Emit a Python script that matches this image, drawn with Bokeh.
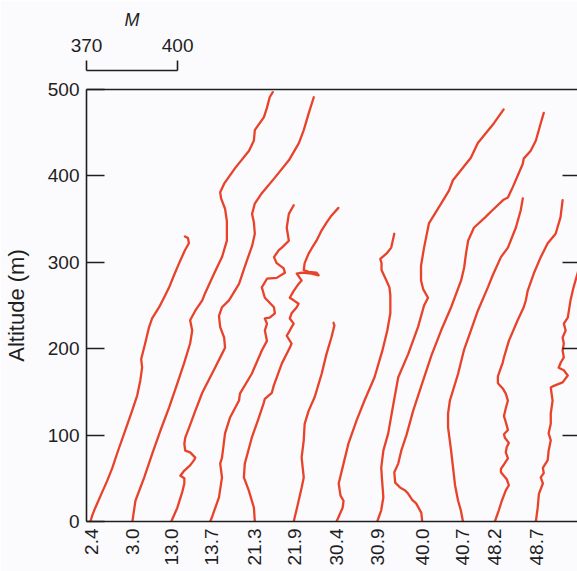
import math

from bokeh.embed import file_html
from bokeh.models import FixedTicker, LinearAxis, Range1d
from bokeh.plotting import figure
from bokeh.resources import INLINE

# Launch times (h) of the twelve soundings, in plotting order
time_labels = ["2.4", "3.0", "13.0", "13.7", "21.3", "21.9",
               "30.4", "30.9", "40.0", "40.7", "48.2", "48.7"]

# Position of each profile's surface value on the M axis
offsets = [371.6, 385.1, 397.9, 411.0, 425.4, 438.5,
           452.3, 465.7, 480.5, 493.9, 504.4, 518.2]

# Altitude (m) and change of modified refractivity M from the surface value
alt_2_4 = [0, 7, 16, 32, 47, 62, 79, 105, 128, 146, 163, 178, 188, 206, 225, 235,
           248, 259, 271, 285, 299, 314, 322, 328, 330]
dm_2_4 = [-0.3, 0.3, 1.3, 3.3, 5.2, 6.9, 8.5, 11.1, 13.4, 15.1, 16.1, 16.7, 16.4,
          17.7, 19.0, 20.0, 22.3, 23.9, 25.6, 27.2, 28.9, 30.8, 32.1, 31.8, 30.8]

alt_3_0 = [0, 24, 51, 79, 105, 132, 160, 183, 206, 221, 233, 244, 256, 264, 287,
           306, 325, 348, 362, 374, 381, 391, 409, 429, 441, 453, 468, 479, 491, 497]
dm_3_0 = [0, 1.0, 3.9, 6.6, 9.2, 12.1, 14.8, 17.0, 19.0, 19.7, 19.0, 20.7, 23.0,
          23.9, 26.9, 29.5, 31.1, 31.1, 30.5, 29.2, 28.9, 30.2, 33.8, 38.4, 40.0,
          40.3, 43.3, 44.3, 45.2, 46.2]

alt_13_0 = [0, 16, 34, 44, 50, 53, 59, 65, 71, 74, 80, 82, 90, 97, 109, 128, 149,
            167, 178, 194, 201, 213, 225, 238, 248, 256, 275, 299, 319, 333, 346,
            356, 368, 380, 398, 418, 438, 453, 472, 491]
dm_13_0 = [0, 2.0, 3.6, 4.3, 4.3, 3.0, 4.3, 6.2, 7.5, 7.9, 6.2, 4.6, 4.3, 4.6, 5.9,
           7.9, 10.2, 12.8, 14.4, 16.7, 17.7, 17.4, 16.1, 15.7, 16.7, 19.0, 22.3,
           24.6, 26.6, 27.5, 27.2, 26.6, 27.5, 29.8, 34.1, 38.7, 42.0, 43.6, 45.2, 46.9]

alt_13_7 = [0, 5, 28, 51, 67, 74, 102, 120, 140, 148, 171, 198, 209, 221, 229, 235,
            236, 241, 248, 259, 271, 281, 282, 288, 293, 299, 306, 314, 317, 325,
            340, 356, 366]
dm_13_7 = [-0.3, 0.3, 2.6, 3.6, 3.0, 3.6, 4.6, 6.2, 9.2, 9.5, 13.4, 16.7, 18.4,
           17.7, 18.4, 17.7, 19.3, 21.0, 20.7, 17.7, 16.7, 18.4, 21.6, 24.3, 23.9,
           21.6, 20.7, 22.3, 23.3, 25.6, 24.9, 25.6, 27.2]

alt_21_3 = [0, 16, 36, 51, 67, 97, 120, 138, 142, 149, 157, 183, 201, 206, 215, 221,
            225, 229, 235, 241, 248, 252, 256, 259, 267, 275, 279, 282, 287, 288,
            287, 285, 288, 289, 291, 299, 310, 316, 325, 337, 346, 354, 363]
dm_21_3 = [0, -0.3, -2.0, -3.6, -3.3, -1.0, 1.3, 3.0, 3.3, 5.6, 6.2, 8.9, 11.5,
           12.1, 10.5, 11.5, 12.1, 12.8, 11.5, 12.1, 13.8, 14.4, 12.8, 11.5, 12.8,
           14.4, 15.4, 14.8, 13.8, 15.4, 18.7, 21.0, 20.3, 17.7, 16.1, 16.4, 17.7,
           18.7, 20.3, 22.0, 23.6, 25.2, 27.5]

alt_21_9 = [0, 19, 39, 51, 74, 94, 113, 128, 144, 171, 194, 213, 227, 230]
dm_21_9 = [-0.3, 1.0, 2.3, 3.0, 2.3, 3.0, 3.3, 4.6, 6.6, 8.9, 10.5, 12.1, 13.1, 12.8]

alt_30_4 = [0, 16, 24, 30, 44, 67, 90, 117, 140, 167, 198, 221, 241, 262, 271, 279,
            291, 299, 304, 310, 317, 333]
dm_30_4 = [0, 2.0, 2.3, 1.3, 0.7, 2.3, 3.9, 6.6, 9.2, 12.5, 15.1, 16.7, 17.7, 17.7,
           17.4, 16.4, 14.8, 14.8, 14.4, 16.4, 18.0, 19.0]

alt_30_9 = [0, 13, 28, 47, 62, 82, 102, 134, 167, 194, 225, 250, 259, 269, 279, 296,
            317, 345, 368, 383, 395, 421, 438, 461, 477]
dm_30_9 = [0, 1.3, 2.0, 1.6, 1.3, 2.0, 3.6, 5.2, 6.9, 10.2, 13.4, 15.4, 16.7, 15.1,
           14.4, 14.4, 15.4, 17.0, 21.0, 23.6, 24.9, 30.8, 33.1, 38.4, 41.6]

alt_40_0 = [0, 10, 21, 25, 32, 36, 39, 45, 57, 67, 82, 100, 128, 157, 192, 221, 248,
            279, 294, 310, 325, 340, 352, 360, 372, 375, 387, 414, 420, 429, 441,
            461, 473]
dm_40_0 = [0, -0.3, -2.0, -3.3, -4.6, -5.6, -7.2, -8.9, -9.2, -7.9, -6.9, -5.2,
           -3.0, -0.3, 3.0, 6.2, 9.5, 12.8, 13.8, 14.4, 15.1, 17.0, 20.7, 23.0,
           26.6, 28.2, 29.8, 33.1, 33.4, 35.7, 37.4, 39.0, 40.0]

alt_40_7 = [0, 13, 24, 42, 82, 109, 125, 140, 171, 198, 221, 244, 271, 285, 306,
            317, 340, 360, 374]
dm_40_7 = [0, -0.7, -1.6, -2.6, -3.9, -4.9, -4.9, -4.3, -1.6, 0.3, 2.6, 4.9, 8.2,
           9.8, 12.5, 14.8, 17.4, 19.0, 19.7]

alt_48_2 = [0, 13, 24, 36, 42, 49, 57, 61, 66, 73, 80, 86, 91, 97, 101, 106, 115,
            122, 131, 140, 148, 154, 160, 168, 178, 184, 190, 209, 233, 248, 256,
            267, 287, 306, 322, 333, 352, 372]
dm_48_2 = [0, 1.3, 2.3, 3.6, 4.6, 3.9, 2.0, 2.0, 3.0, 4.3, 3.6, 3.9, 4.6, 3.3, 3.0,
           4.3, 3.6, 3.0, 3.6, 4.3, 3.6, 2.6, 1.0, 1.0, 2.0, 2.6, 3.0, 4.6, 7.5, 9.5,
           10.2, 10.8, 12.8, 15.1, 17.4, 20.0, 21.6, 22.3]

alt_48_7 = [0, 16, 32, 44, 51, 56, 62, 71, 82, 94, 102, 113, 125, 140, 155, 157,
            161, 169, 175, 178, 184, 190, 198, 206, 213, 221, 229, 236, 256, 271,
            287, 304]
dm_48_7 = [-0.3, 0.3, 0.7, 2.0, 1.3, 2.3, 2.0, 3.6, 3.9, 4.6, 3.9, 4.6, 4.6, 5.2,
           4.6, 5.6, 8.5, 10.2, 8.9, 7.2, 7.9, 8.9, 8.5, 8.9, 8.5, 9.5, 8.9, 10.2,
           11.1, 12.1, 13.4, 14.8]

profiles = [
    (alt_2_4, dm_2_4), (alt_3_0, dm_3_0), (alt_13_0, dm_13_0), (alt_13_7, dm_13_7),
    (alt_21_3, dm_21_3), (alt_21_9, dm_21_9), (alt_30_4, dm_30_4), (alt_30_9, dm_30_9),
    (alt_40_0, dm_40_0), (alt_40_7, dm_40_7), (alt_48_2, dm_48_2), (alt_48_7, dm_48_7),
]

scale_ticks = [370, 400]
alt_ticks = [0, 100, 200, 300, 400, 500]

BG = "#fbfafd"
INK = "#1e1e1e"
RED = "#e8432a"
FONT = "Liberation Sans"
NUM_SIZE = "19px"

p = figure(
    width=577, height=571,
    x_range=Range1d(370, 531.6), y_range=Range1d(0, 500),
    output_backend="svg", toolbar_location=None,
    min_border_left=84, min_border_right=0, min_border_top=89, min_border_bottom=50,
    background_fill_color=BG, border_fill_color=BG, outline_line_color=None,
)
p.grid.visible = False

# profiles, each shifted to its own base position
for (alt, dm), x0 in zip(profiles, offsets):
    p.line([x0 + d for d in dm], alt, line_color=RED, line_width=2.3,
           line_join="round", line_cap="round")

# bottom axis: launch time under each profile
xa = p.xaxis[0]
xa.ticker = FixedTicker(ticks=offsets)
xa.major_label_overrides = {x: t for x, t in zip(offsets, time_labels)}
xa.major_label_orientation = math.pi / 2
xa.major_tick_in = 0
xa.major_tick_out = 0
xa.minor_tick_line_color = None
xa.axis_line_color = INK
xa.axis_line_width = 1.6
xa.major_label_standoff = 7
xa.major_label_text_font = FONT
xa.major_label_text_font_size = NUM_SIZE
xa.major_label_text_color = INK

# left axis: altitude
ya = p.yaxis[0]
ya.ticker = FixedTicker(ticks=alt_ticks)
ya.major_tick_in = 18
ya.major_tick_out = 0
ya.minor_tick_line_color = None
ya.axis_line_color = INK
ya.axis_line_width = 1.6
ya.major_tick_line_color = INK
ya.major_tick_line_width = 1.6
ya.major_label_standoff = 7
ya.major_label_text_font = FONT
ya.major_label_text_font_size = NUM_SIZE
ya.major_label_text_color = INK
ya.axis_label = "Altitude (m)"
ya.axis_label_text_font = FONT
ya.axis_label_text_font_style = "normal"
ya.axis_label_text_font_size = "22px"
ya.axis_label_text_color = INK
ya.axis_label_standoff = 16

# right side: inward ticks only
ra = LinearAxis(
    ticker=FixedTicker(ticks=alt_ticks[1:-1]),
    major_label_overrides={t: "" for t in alt_ticks[1:-1]},
    major_tick_in=15, major_tick_out=0, major_label_standoff=0,
    axis_line_color=None, minor_tick_line_color=None,
    major_tick_line_color=INK, major_tick_line_width=1.6,
)
p.add_layout(ra, "right")

# top border of the box, with an empty band up to the M scale bar
top = LinearAxis(
    ticker=FixedTicker(ticks=[385]), major_label_overrides={385: ""},
    major_tick_out=19, major_tick_in=0, major_label_standoff=0,
    major_label_text_font_size="1px",
    axis_line_color=INK, axis_line_width=1.6,
    major_tick_line_color=None, minor_tick_line_color=None,
)
p.add_layout(top, "above")

# M scale bar
sa = LinearAxis(
    ticker=FixedTicker(ticks=scale_ticks), bounds=(370, 400),
    major_tick_out=10, major_tick_in=0, minor_tick_line_color=None,
    axis_line_color=INK, axis_line_width=1.6,
    major_tick_line_color=INK, major_tick_line_width=1.6,
    major_label_standoff=9, major_label_text_font=FONT,
    major_label_text_font_size=NUM_SIZE, major_label_text_color=INK,
)
p.add_layout(sa, "above")

ka = LinearAxis(
    ticker=FixedTicker(ticks=[385]), major_label_overrides={385: "M"},
    major_tick_out=0, major_tick_in=0, minor_tick_line_color=None,
    axis_line_color=None, major_tick_line_color=None, major_label_standoff=6,
    major_label_text_font=FONT, major_label_text_font_style="italic",
    major_label_text_font_size="18px", major_label_text_color=INK,
)
p.add_layout(ka, "above")

open("out.html", "w").write(file_html(p, INLINE))
